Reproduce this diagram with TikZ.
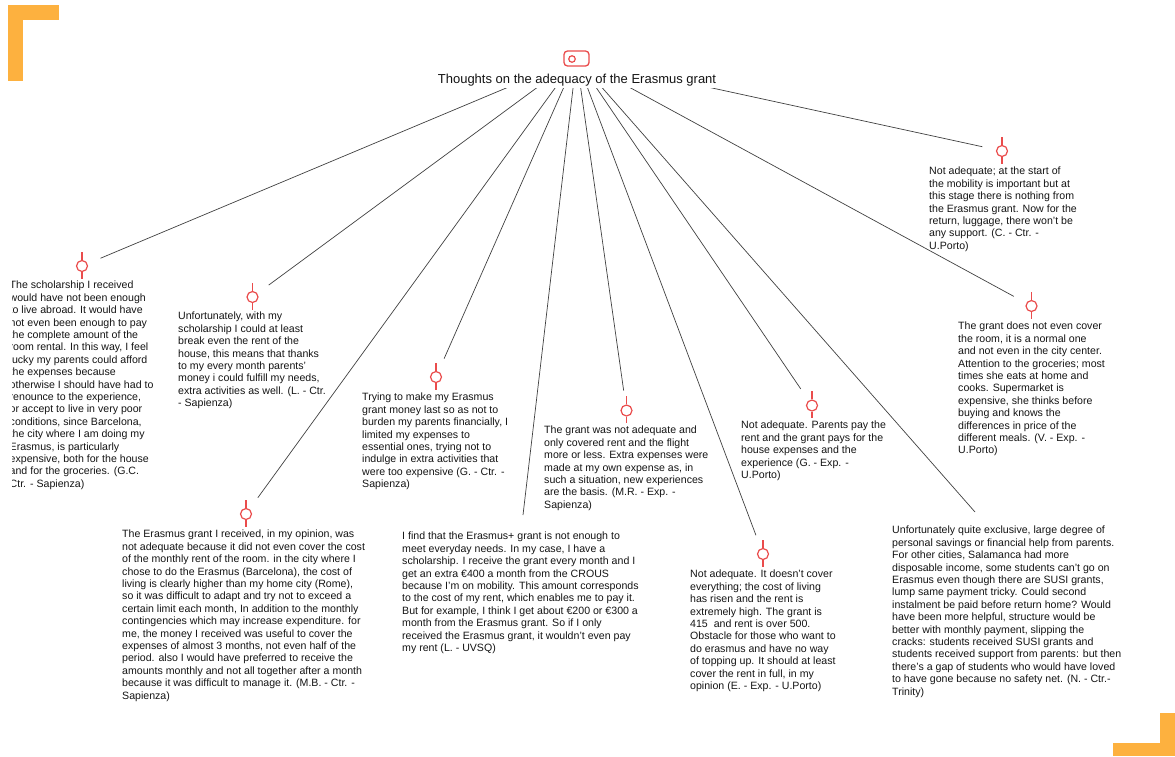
\documentclass[tikz,border=0pt]{standalone}
\usepackage{fontspec}
\setmainfont{Liberation Sans}
\usetikzlibrary{backgrounds}
\definecolor{bracket}{RGB}{253,177,63}
\definecolor{pin}{RGB}{234,76,76}
\definecolor{ink}{RGB}{20,20,20}
\tikzset{
  quote/.style={anchor=north west, align=left, inner sep=0pt, text=ink,
    font=\fontsize{10.6}{12.4}\selectfont},
  pinring/.style={circle, draw=pin, line width=1.2pt, minimum size=11pt,
    inner sep=0pt, fill=white},
  pinstem/.style={draw=pin, line width=1.2pt},
  conn/.style={draw=black!75, line width=0.7pt, shorten >=14pt},
  connfree/.style={draw=black!75, line width=0.7pt},
}
% a red ring with a short stem above and below
\newcommand\pinmark[2]{%
  \node[pinring] (#1) at (#2) {};
  \draw[pinstem] (#1.north) -- ++(0,-8) (#1.south) -- ++(0,6.5);}

\begin{document}
\begin{tikzpicture}[x=1pt,y=-1pt]
\useasboundingbox (0,0) rectangle (1175,756);

% corner brackets
\fill[bracket] (8,5) rectangle (58.5,20);
\fill[bracket] (8,5) rectangle (22.7,81);
\fill[bracket] (1160,713) rectangle (1175,756);
\fill[bracket] (1113,743) rectangle (1175,756);

% title with its icon
\node[fill=white, anchor=base, inner xsep=3pt, inner ysep=2pt,
  text height=31pt, text depth=2.5pt, text=ink,
  font=\fontsize{13}{15}\selectfont] (title) at (577,83)
  {Thoughts on the adequacy of the Erasmus grant};
\node[draw=pin, line width=1.3pt, rounded corners=3.5pt, minimum width=25pt,
  minimum height=15pt, inner sep=0pt] (icon) at (576.5,58.5) {};
\node[circle, draw=pin, line width=1.2pt, minimum size=6.5pt, inner sep=0pt]
  (knob) at (572,59) {};

% markers
\pinmark{m1}{82,266}
\pinmark{m2}{252.5,297}
\pinmark{m3}{436,377}
\pinmark{m4}{626.5,410.5}
\pinmark{m5}{812,405.5}
\pinmark{m6}{1002,151}
\pinmark{m7}{1031.5,306}
\pinmark{m8}{246,514}
\pinmark{m10}{763,554}
\coordinate (e9) at (523,515);
\coordinate (e11) at (975,512);

% quotes
\begin{scope}
\clip (12,0) rectangle (300,756);
\node[quote] (q1) at (9.5,281) {The scholarship I received\\
would have not been enough\\
to live abroad. It would have\\
not even been enough to pay\\
the complete amount of the\\
room rental. In this way, I feel\\
lucky my parents could afford\\
the expenses because\\
otherwise I should have had to\\
renounce to the experience,\\
or accept to live in very poor\\
conditions, since Barcelona,\\
the city where I am doing my\\
Erasmus, is particularly\\
expensive, both for the house\\
and for the groceries. (G.C.\\
Ctr. - Sapienza)};
\end{scope}

\node[quote] (q2) at (178,312) {Unfortunately, with my\\
scholarship I could at least\\
break even the rent of the\\
house, this means that thanks\\
to my every month parents'\\
money i could fulfill my needs,\\
extra activities as well. (L. - Ctr.\\
- Sapienza)};

\node[quote] (q3) at (362,393) {Trying to make my Erasmus\\
grant money last so as not to\\
burden my parents financially, I\\
limited my expenses to\\
essential ones, trying not to\\
indulge in extra activities that\\
were too expensive (G. - Ctr. -\\
Sapienza)};

\node[quote] (q4) at (544,426) {The grant was not adequate and\\
only covered rent and the flight\\
more or less. Extra expenses were\\
made at my own expense as, in\\
such a situation, new experiences\\
are the basis. (M.R. - Exp. -\\
Sapienza)};

\node[quote] (q5) at (741,421) {Not adequate. Parents pay the\\
rent and the grant pays for the\\
house expenses and the\\
experience (G. - Exp. -\\
U.Porto)};

\node[quote] (q6) at (929,167) {Not adequate; at the start of\\
the mobility is important but at\\
this stage there is nothing from\\
the Erasmus grant. Now for the\\
return, luggage, there won't be\\
any support. (C. - Ctr. -\\
U.Porto)};

\node[quote] (q7) at (958,322) {The grant does not even cover\\
the room, it is a normal one\\
and not even in the city center.\\
Attention to the groceries; most\\
times she eats at home and\\
cooks. Supermarket is\\
expensive, she thinks before\\
buying and knows the\\
differences in price of the\\
different meals. (V. - Exp. -\\
U.Porto)};

\node[quote] (q8) at (122,530) {The Erasmus grant I received, in my opinion, was\\
not adequate because it did not even cover the cost\\
of the monthly rent of the room. in the city where I\\
chose to do the Erasmus (Barcelona), the cost of\\
living is clearly higher than my home city (Rome),\\
so it was difficult to adapt and try not to exceed a\\
certain limit each month, In addition to the monthly\\
contingencies which may increase expenditure. for\\
me, the money I received was useful to cover the\\
expenses of almost 3 months, not even half of the\\
period. also I would have preferred to receive the\\
amounts monthly and not all together after a month\\
because it was difficult to manage it. (M.B. - Ctr. -\\
Sapienza)};

\node[quote] (q9) at (402,532) {I find that the Erasmus+ grant is not enough to\\
meet everyday needs. In my case, I have a\\
scholarship. I receive the grant every month and I\\
get an extra €400 a month from the CROUS\\
because I'm on mobility. This amount corresponds\\
to the cost of my rent, which enables me to pay it.\\
But for example, I think I get about €200 or €300 a\\
month from the Erasmus grant. So if I only\\
received the Erasmus grant, it wouldn't even pay\\
my rent (L. - UVSQ)};

\node[quote] (q10) at (690,570) {Not adequate. It doesn't cover\\
everything; the cost of living\\
has risen and the rent is\\
extremely high. The grant is\\
415 \ and rent is over 500.\\
Obstacle for those who want to\\
do erasmus and have no way\\
of topping up. It should at least\\
cover the rent in full, in my\\
opinion (E. - Exp. - U.Porto)};

\node[quote] (q11) at (892,526) {Unfortunately quite exclusive, large degree of\\
personal savings or financial help from parents.\\
For other cities, Salamanca had more\\
disposable income, some students can't go on\\
Erasmus even though there are SUSI grants,\\
lump same payment tricky. Could second\\
instalment be paid before return home? Would\\
have been more helpful, structure would be\\
better with monthly payment, slipping the\\
cracks: students received SUSI grants and\\
students received support from parents: but then\\
there's a gap of students who would have loved\\
to have gone because no safety net. (N. - Ctr.-\\
Trinity)};

% connectors, radiating from the icon and hidden behind the title
\begin{scope}[on background layer]
\foreach \m in {m1,m2,m3,m4,m5,m6,m7,m8,m10}
  \draw[conn] (icon.center) -- (\m);
\draw[connfree] (icon.center) -- (e9);
\draw[connfree] (icon.center) -- (e11);
\end{scope}
\end{tikzpicture}
\end{document}
